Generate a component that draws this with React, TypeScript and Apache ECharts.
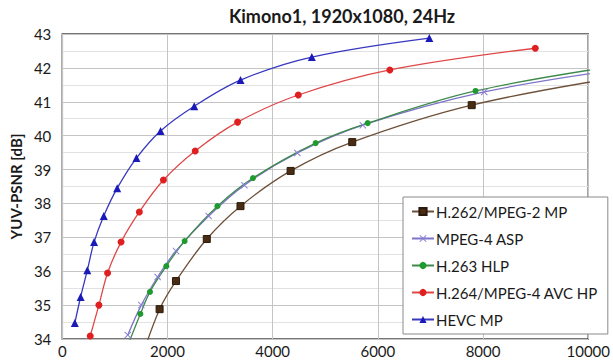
import React, { useEffect, useRef } from "react";
import * as echarts from "echarts";

const TITLE = "Kimono1, 1920x1080, 24Hz";
const Y_NAME = "YUV-PSNR [dB]";
const SERIES_NAMES = ["H.262/MPEG-2 MP", "MPEG-4 ASP", "H.263 HLP", "H.264/MPEG-4 AVC HP", "HEVC MP"];

// [bitrate kbps, PSNR dB]
const h262: number[][] = [
  [1500, 33.4], [1850, 34.88], [2161, 35.71], [2747, 36.95], [3388, 37.92],
  [4341, 38.96], [5513, 39.81], [7784, 40.9], [10800, 41.78],
];
const mpeg4asp: number[][] = [
  [1245, 34.12], [1502, 35.0], [1813, 35.83], [2161, 36.6], [2784, 37.63],
  [3462, 38.54], [4469, 39.49], [5714, 40.31], [8022, 41.29], [10800, 42.0],
];
const h263: number[][] = [
  [1180, 33.55], [1484, 34.74], [1667, 35.39], [1978, 36.15], [2326, 36.89],
  [2949, 37.92], [3626, 38.75], [4817, 39.78], [5806, 40.37], [7857, 41.32], [10800, 42.12],
];
const h264: number[][] = [
  [531, 34.09], [696, 35.0], [861, 35.95], [1117, 36.86], [1465, 37.75],
  [1923, 38.69], [2527, 39.55], [3333, 40.4], [4487, 41.2], [6227, 41.94], [8993, 42.58],
];
const hevc: number[][] = [
  [238, 34.47], [348, 35.24], [476, 36.03], [604, 36.86], [788, 37.63], [1044, 38.45],
  [1410, 39.34], [1868, 40.14], [2509, 40.87], [3388, 41.64], [4744, 42.32], [6978, 42.88],
];

const X_MIN = 0, X_MAX = 10000, X_STEP = 2000;
const Y_MIN = 34, Y_MAX = 43, Y_STEP = 1;

const FONT = "Lato, 'Open Sans', sans-serif";
const CROSS = "path://M0,1L1,0L5,4L9,0L10,1L6,5L10,9L9,10L5,6L1,10L0,9L4,5Z";

export default function App() {
  const ref = useRef<HTMLDivElement>(null);
  useEffect(() => {
    if (!ref.current) return;
    const chart = echarts.init(ref.current, undefined, { renderer: "svg" });
    const mk = (name: string, data: number[][], line: string, mark: string, symbol: string, size: number, border?: string) => ({
      name,
      type: "line",
      data,
      smooth: 0.35,
      clip: true,
      symbol,
      symbolSize: size,
      lineStyle: { color: line, width: 1.3 },
      itemStyle: { color: mark, borderColor: border || mark, borderWidth: border ? 1 : 0 },
    });
    chart.setOption({
      animation: false,
      backgroundColor: "#ffffff",
      textStyle: { fontFamily: FONT },
      title: {
        text: TITLE,
        left: 337,
        top: 2,
        textAlign: "center",
        textStyle: { fontSize: 18, fontWeight: "bold", color: "#1a1a1a", fontFamily: FONT },
      },
      grid: {
        left: 61, right: 6, top: 34, bottom: 21,
        show: true, borderColor: "#4a4a4a", borderWidth: 1.5, backgroundColor: "#ffffff",
      },
      legend: {
        orient: "vertical",
        left: 403,
        top: 197,
        width: 202,
        padding: [7, 10, 7, 8],
        itemGap: 12,
        itemWidth: 22,
        itemHeight: 9,
        backgroundColor: "#ffffff",
        borderColor: "#8a8a8a",
        borderWidth: 1,
        textStyle: { fontSize: 15, color: "#1a1a1a", fontFamily: FONT, padding: [0, 0, 0, -3] },
        data: SERIES_NAMES,
      },
      xAxis: {
        type: "value",
        min: X_MIN, max: X_MAX, interval: X_STEP,
        axisLine: { show: false },
        axisTick: { show: false },
        axisLabel: { fontSize: 15, color: "#1a1a1a", margin: 4, fontFamily: FONT, formatter: (v: number) => String(v) },
        splitLine: { show: true, lineStyle: { color: "#c4c4c4", width: 1 } },
      },
      yAxis: {
        type: "value",
        min: Y_MIN, max: Y_MAX, interval: Y_STEP,
        name: Y_NAME,
        nameLocation: "middle",
        nameGap: 36,
        nameTextStyle: { fontSize: 15, fontWeight: "bold", color: "#1a1a1a", fontFamily: FONT },
        axisLine: { show: false },
        axisTick: { show: false },
        axisLabel: { fontSize: 15, color: "#1a1a1a", margin: 11, fontFamily: FONT },
        splitLine: { show: true, lineStyle: { color: "#c4c4c4", width: 1 } },
        minorTick: { show: false, splitNumber: 2 },
        minorSplitLine: { show: true, lineStyle: { color: "#e2e2e2", width: 1 } },
      },
      series: [
        mk(SERIES_NAMES[0], h262, "#6e5039", "#4a2c14", "rect", 7, "#2a1a0a"),
        mk(SERIES_NAMES[1], mpeg4asp, "#7d74c9", "#8a7fd6", CROSS, 7),
        mk(SERIES_NAMES[2], h263, "#3e8a4c", "#1f9a2e", "circle", 6),
        mk(SERIES_NAMES[3], h264, "#e04848", "#e02020", "circle", 7),
        mk(SERIES_NAMES[4], hevc, "#3838c0", "#1a1ab8", "triangle", 8),
      ],
    });
    return () => chart.dispose();
  }, []);
  return (
    <div
      ref={ref}
      style={{ position: "fixed", left: 0, top: 0, width: 613, height: 360, background: "#fff" }}
    />
  );
}
